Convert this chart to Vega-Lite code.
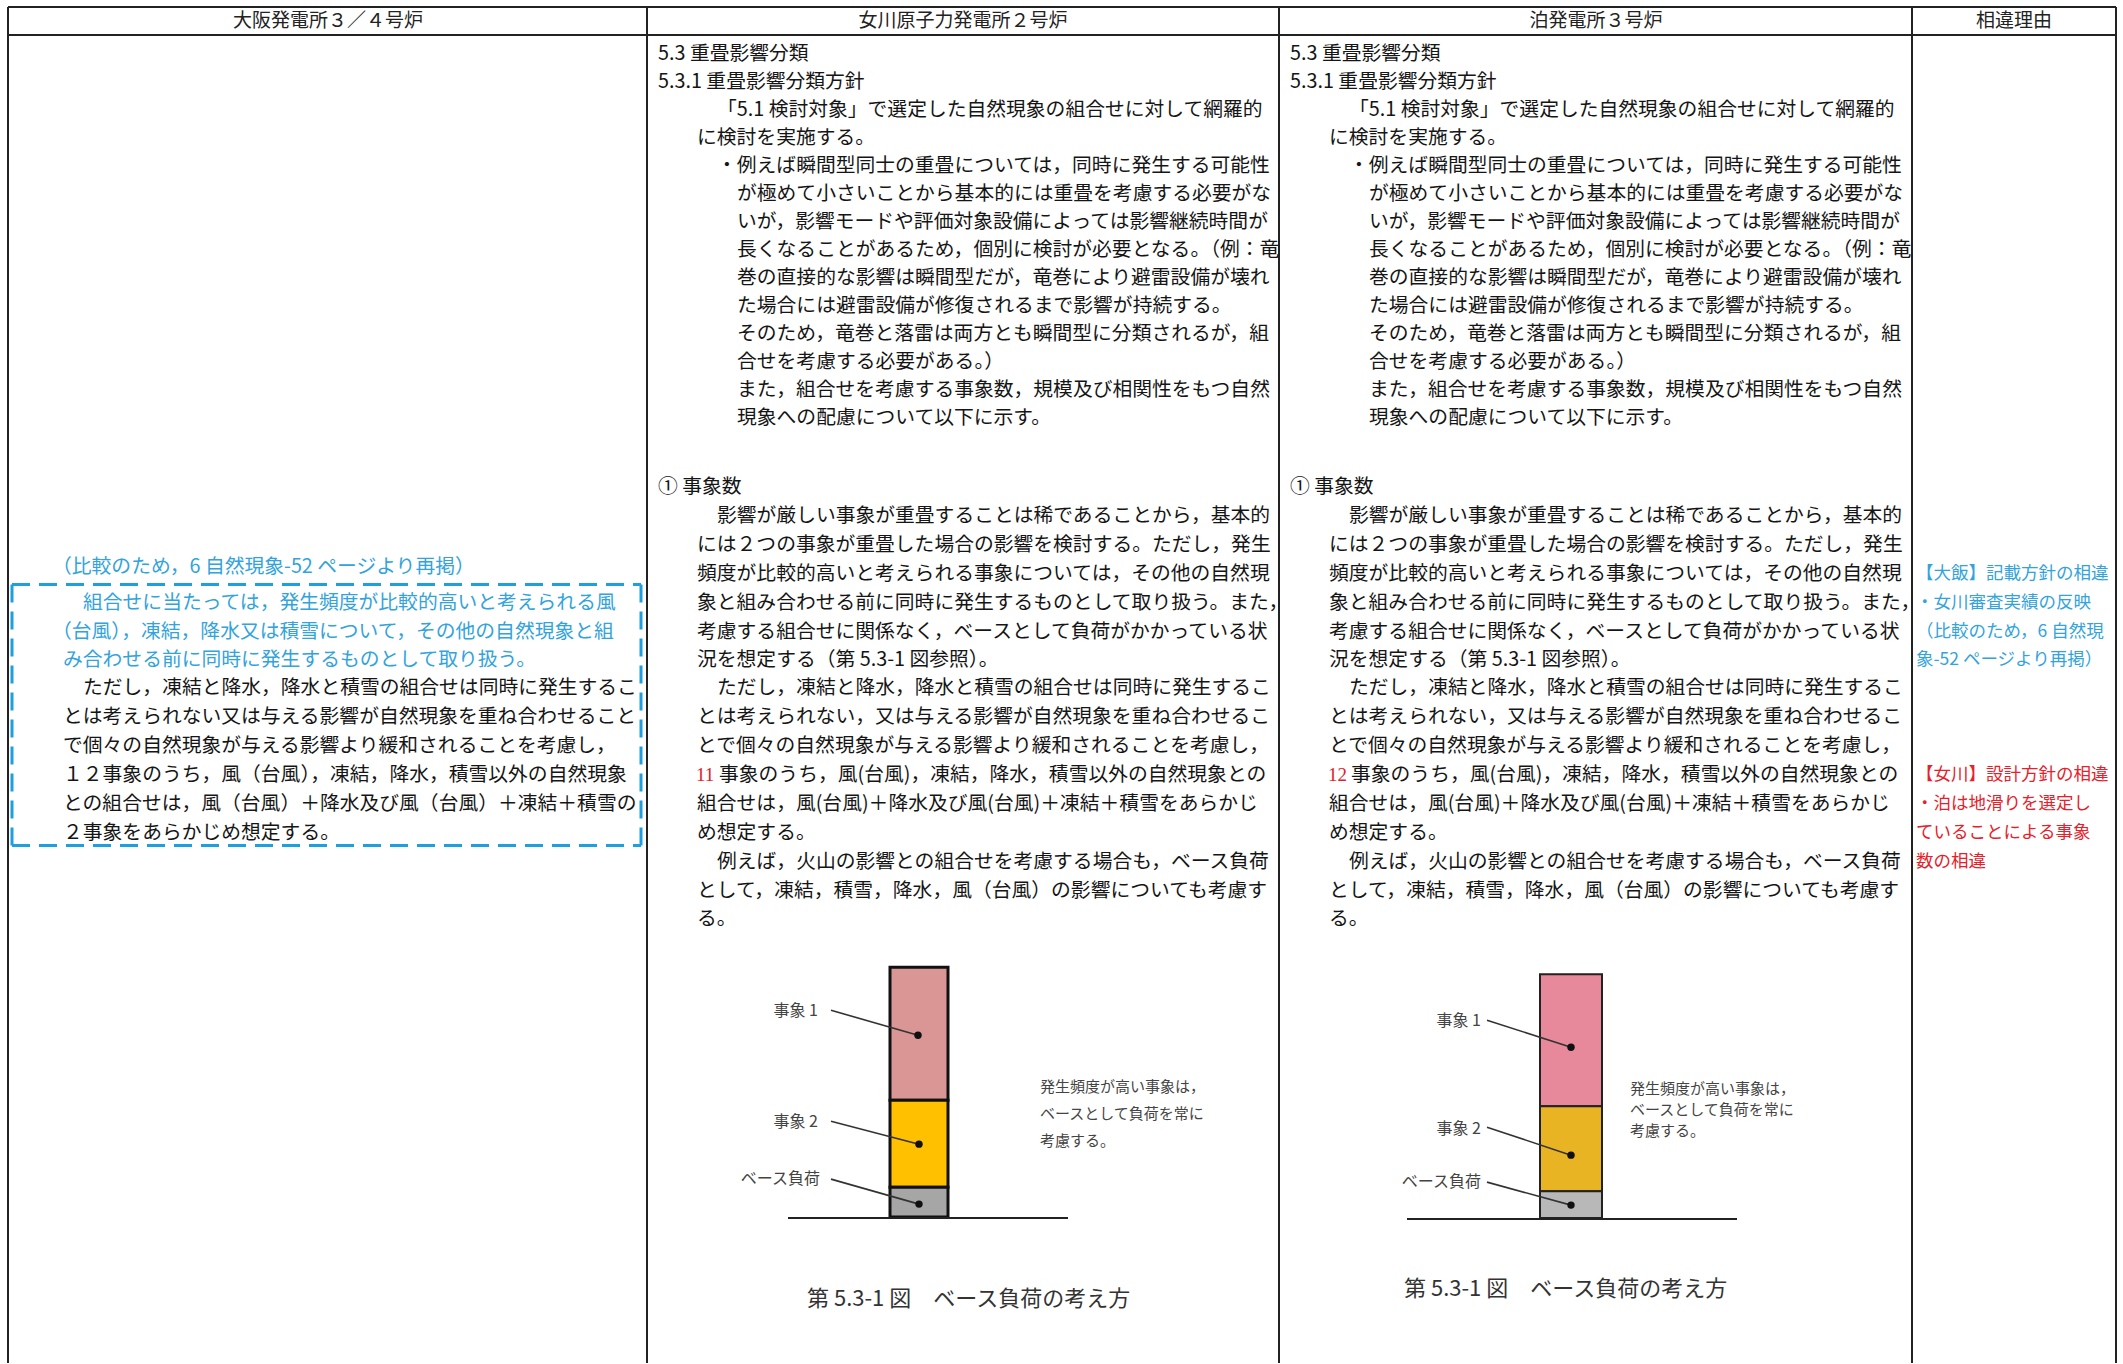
{
  "$schema": "https://vega.github.io/schema/vega-lite/v6.json",
  "width": 2123,
  "height": 1364,
  "autosize": {"type": "fit", "contains": "padding"},
  "padding": 0,
  "background": "#ffffff",
  "config": {"view": {"stroke": null}, "text": {"font": "Noto Sans CJK JP"}},
  "datasets": {
    "grid": [
      {"x": 8, "y": 7, "x2": 2116, "y2": 7},
      {"x": 8, "y": 35, "x2": 2116, "y2": 35},
      {"x": 8, "y": 7, "x2": 8, "y2": 1364},
      {"x": 647, "y": 7, "x2": 647, "y2": 1364},
      {"x": 1279, "y": 7, "x2": 1279, "y2": 1364},
      {"x": 1912, "y": 7, "x2": 1912, "y2": 1364},
      {"x": 2116, "y": 7, "x2": 2116, "y2": 1364}
    ],
    "dashbox": [
      {"x": 12, "y": 585, "x2": 641, "y2": 585},
      {"x": 12, "y": 846, "x2": 641, "y2": 846},
      {"x": 12, "y": 585, "x2": 12, "y2": 846},
      {"x": 641, "y": 585, "x2": 641, "y2": 846}
    ],
    "headers": [
      {"x": 328, "y": 21, "text": "大阪発電所３／４号炉"},
      {"x": 963, "y": 21, "text": "女川原子力発電所２号炉"},
      {"x": 1596, "y": 21, "text": "泊発電所３号炉"},
      {"x": 2014, "y": 21, "text": "相違理由"}
    ],
    "body": [
      {"x": 658, "y": 54, "text": "5.3 重畳影響分類"},
      {"x": 658, "y": 82, "text": "5.3.1 重畳影響分類方針"},
      {"x": 717, "y": 110, "text": "「5.1 検討対象」で選定した自然現象の組合せに対して網羅的"},
      {"x": 697, "y": 138, "text": "に検討を実施する。"},
      {"x": 717, "y": 166, "text": "・例えば瞬間型同士の重畳については，同時に発生する可能性"},
      {"x": 737, "y": 194, "text": "が極めて小さいことから基本的には重畳を考慮する必要がな"},
      {"x": 737, "y": 222, "text": "いが，影響モードや評価対象設備によっては影響継続時間が"},
      {"x": 737, "y": 250, "text": "長くなることがあるため，個別に検討が必要となる。（例：竜"},
      {"x": 737, "y": 278, "text": "巻の直接的な影響は瞬間型だが，竜巻により避雷設備が壊れ"},
      {"x": 737, "y": 306, "text": "た場合には避雷設備が修復されるまで影響が持続する。"},
      {"x": 737, "y": 334, "text": "そのため，竜巻と落雷は両方とも瞬間型に分類されるが，組"},
      {"x": 737, "y": 362, "text": "合せを考慮する必要がある。）"},
      {"x": 737, "y": 390, "text": "また，組合せを考慮する事象数，規模及び相関性をもつ自然"},
      {"x": 737, "y": 418, "text": "現象への配慮について以下に示す。"},
      {"x": 658, "y": 487, "text": "① 事象数"},
      {"x": 717, "y": 516, "text": "影響が厳しい事象が重畳することは稀であることから，基本的"},
      {"x": 697, "y": 545, "text": "には２つの事象が重畳した場合の影響を検討する。ただし，発生"},
      {"x": 697, "y": 574, "text": "頻度が比較的高いと考えられる事象については，その他の自然現"},
      {"x": 697, "y": 603, "text": "象と組み合わせる前に同時に発生するものとして取り扱う。また，"},
      {"x": 697, "y": 632, "text": "考慮する組合せに関係なく，ベースとして負荷がかかっている状"},
      {"x": 697, "y": 660, "text": "況を想定する（第 5.3-1 図参照）。"},
      {"x": 717, "y": 689, "text": "ただし，凍結と降水，降水と積雪の組合せは同時に発生するこ"},
      {"x": 697, "y": 718, "text": "とは考えられない，又は与える影響が自然現象を重ね合わせるこ"},
      {"x": 697, "y": 747, "text": "とで個々の自然現象が与える影響より緩和されることを考慮し，"},
      {"x": 719, "y": 776, "text": "事象のうち，風(台風)，凍結，降水，積雪以外の自然現象との"},
      {"x": 697, "y": 805, "text": "組合せは，風(台風)＋降水及び風(台風)＋凍結＋積雪をあらかじ"},
      {"x": 697, "y": 834, "text": "め想定する。"},
      {"x": 717, "y": 863, "text": "例えば，火山の影響との組合せを考慮する場合も，ベース負荷"},
      {"x": 697, "y": 892, "text": "として，凍結，積雪，降水，風（台風）の影響についても考慮す"},
      {"x": 697, "y": 920, "text": "る。"},
      {"x": 1290, "y": 54, "text": "5.3 重畳影響分類"},
      {"x": 1290, "y": 82, "text": "5.3.1 重畳影響分類方針"},
      {"x": 1349, "y": 110, "text": "「5.1 検討対象」で選定した自然現象の組合せに対して網羅的"},
      {"x": 1329, "y": 138, "text": "に検討を実施する。"},
      {"x": 1349, "y": 166, "text": "・例えば瞬間型同士の重畳については，同時に発生する可能性"},
      {"x": 1369, "y": 194, "text": "が極めて小さいことから基本的には重畳を考慮する必要がな"},
      {"x": 1369, "y": 222, "text": "いが，影響モードや評価対象設備によっては影響継続時間が"},
      {"x": 1369, "y": 250, "text": "長くなることがあるため，個別に検討が必要となる。（例：竜"},
      {"x": 1369, "y": 278, "text": "巻の直接的な影響は瞬間型だが，竜巻により避雷設備が壊れ"},
      {"x": 1369, "y": 306, "text": "た場合には避雷設備が修復されるまで影響が持続する。"},
      {"x": 1369, "y": 334, "text": "そのため，竜巻と落雷は両方とも瞬間型に分類されるが，組"},
      {"x": 1369, "y": 362, "text": "合せを考慮する必要がある。）"},
      {"x": 1369, "y": 390, "text": "また，組合せを考慮する事象数，規模及び相関性をもつ自然"},
      {"x": 1369, "y": 418, "text": "現象への配慮について以下に示す。"},
      {"x": 1290, "y": 487, "text": "① 事象数"},
      {"x": 1349, "y": 516, "text": "影響が厳しい事象が重畳することは稀であることから，基本的"},
      {"x": 1329, "y": 545, "text": "には２つの事象が重畳した場合の影響を検討する。ただし，発生"},
      {"x": 1329, "y": 574, "text": "頻度が比較的高いと考えられる事象については，その他の自然現"},
      {"x": 1329, "y": 603, "text": "象と組み合わせる前に同時に発生するものとして取り扱う。また，"},
      {"x": 1329, "y": 632, "text": "考慮する組合せに関係なく，ベースとして負荷がかかっている状"},
      {"x": 1329, "y": 660, "text": "況を想定する（第 5.3-1 図参照）。"},
      {"x": 1349, "y": 689, "text": "ただし，凍結と降水，降水と積雪の組合せは同時に発生するこ"},
      {"x": 1329, "y": 718, "text": "とは考えられない，又は与える影響が自然現象を重ね合わせるこ"},
      {"x": 1329, "y": 747, "text": "とで個々の自然現象が与える影響より緩和されることを考慮し，"},
      {"x": 1351, "y": 776, "text": "事象のうち，風(台風)，凍結，降水，積雪以外の自然現象との"},
      {"x": 1329, "y": 805, "text": "組合せは，風(台風)＋降水及び風(台風)＋凍結＋積雪をあらかじ"},
      {"x": 1329, "y": 834, "text": "め想定する。"},
      {"x": 1349, "y": 863, "text": "例えば，火山の影響との組合せを考慮する場合も，ベース負荷"},
      {"x": 1329, "y": 892, "text": "として，凍結，積雪，降水，風（台風）の影響についても考慮す"},
      {"x": 1329, "y": 920, "text": "る。"},
      {"x": 83, "y": 689, "text": "ただし，凍結と降水，降水と積雪の組合せは同時に発生するこ"},
      {"x": 63, "y": 718, "text": "とは考えられない又は与える影響が自然現象を重ね合わせること"},
      {"x": 63, "y": 747, "text": "で個々の自然現象が与える影響より緩和されることを考慮し，"},
      {"x": 63, "y": 776, "text": "１２事象のうち，風（台風），凍結，降水，積雪以外の自然現象"},
      {"x": 63, "y": 805, "text": "との組合せは，風（台風）＋降水及び風（台風）＋凍結＋積雪の"},
      {"x": 63, "y": 834, "text": "２事象をあらかじめ想定する。"}
    ],
    "bluetext": [
      {"x": 52, "y": 567, "text": "（比較のため，6 自然現象-52 ページより再掲）"},
      {"x": 83, "y": 603, "text": "組合せに当たっては，発生頻度が比較的高いと考えられる風"},
      {"x": 52, "y": 632, "text": "（台風），凍結，降水又は積雪について，その他の自然現象と組"},
      {"x": 63, "y": 660, "text": "み合わせる前に同時に発生するものとして取り扱う。"}
    ],
    "rednum": [
      {"x": 696, "y": 776, "text": "11"},
      {"x": 1328, "y": 776, "text": "12"}
    ],
    "reason_blue": [
      {"x": 1916, "y": 574, "text": "【大飯】記載方針の相違"},
      {"x": 1916, "y": 603, "text": "・女川審査実績の反映"},
      {"x": 1916, "y": 632, "text": "（比較のため，6 自然現"},
      {"x": 1916, "y": 660, "text": "象-52 ページより再掲）"}
    ],
    "reason_red": [
      {"x": 1916, "y": 776, "text": "【女川】設計方針の相違"},
      {"x": 1916, "y": 805, "text": "・泊は地滑りを選定し"},
      {"x": 1916, "y": 834, "text": "ていることによる事象"},
      {"x": 1916, "y": 863, "text": "数の相違"}
    ],
    "bars_onagawa": [
      {"seg": "女川 事象1", "x": 890, "x2": 948, "y": 968, "y2": 1101},
      {"seg": "女川 事象2", "x": 890, "x2": 948, "y": 1101, "y2": 1188},
      {"seg": "女川 ベース負荷", "x": 890, "x2": 948, "y": 1188, "y2": 1218}
    ],
    "bars_tomari": [
      {"seg": "泊 事象1", "x": 1540, "x2": 1602, "y": 975, "y2": 1107},
      {"seg": "泊 事象2", "x": 1540, "x2": 1602, "y": 1107, "y2": 1192},
      {"seg": "泊 ベース負荷", "x": 1540, "x2": 1602, "y": 1192, "y2": 1219}
    ],
    "baselines": [
      {"x": 788, "y": 1219, "x2": 1068, "y2": 1219},
      {"x": 1407, "y": 1220, "x2": 1737, "y2": 1220}
    ],
    "leaders": [
      {"x": 831, "y": 1011, "x2": 918, "y2": 1036},
      {"x": 831, "y": 1122, "x2": 919, "y2": 1145},
      {"x": 831, "y": 1180, "x2": 919, "y2": 1205},
      {"x": 1487, "y": 1021, "x2": 1571, "y2": 1048},
      {"x": 1487, "y": 1128, "x2": 1571, "y2": 1156},
      {"x": 1487, "y": 1183, "x2": 1571, "y2": 1206}
    ],
    "dots": [
      {"x": 918, "y": 1036},
      {"x": 919, "y": 1145},
      {"x": 919, "y": 1205},
      {"x": 1571, "y": 1048},
      {"x": 1571, "y": 1156},
      {"x": 1571, "y": 1206}
    ],
    "seglabels": [
      {"x": 818, "y": 1012, "text": "事象 1"},
      {"x": 818, "y": 1123, "text": "事象 2"},
      {"x": 820, "y": 1180, "text": "ベース負荷"},
      {"x": 1481, "y": 1022, "text": "事象 1"},
      {"x": 1481, "y": 1130, "text": "事象 2"},
      {"x": 1481, "y": 1183, "text": "ベース負荷"}
    ],
    "notes": [
      {"x": 1040, "y": 1088, "text": "発生頻度が高い事象は，"},
      {"x": 1040, "y": 1115, "text": "ベースとして負荷を常に"},
      {"x": 1040, "y": 1142, "text": "考慮する。"},
      {"x": 1630, "y": 1090, "text": "発生頻度が高い事象は，"},
      {"x": 1630, "y": 1111, "text": "ベースとして負荷を常に"},
      {"x": 1630, "y": 1132, "text": "考慮する。"}
    ],
    "captions": [
      {"x": 807, "y": 1300, "text": "第 5.3-1 図　ベース負荷の考え方"},
      {"x": 1404, "y": 1290, "text": "第 5.3-1 図　ベース負荷の考え方"}
    ]
  },
  "layer": [
    {
      "data": {"name": "grid"},
      "mark": {"type": "rule", "strokeWidth": 2, "color": "#222222"},
      "encoding": {
        "x": {"field": "x", "type": "quantitative", "scale": {"domain": [0, 2123], "nice": false, "zero": false}, "axis": null},
        "y": {"field": "y", "type": "quantitative", "scale": {"domain": [0, 1364], "nice": false, "zero": false, "reverse": true}, "axis": null},
        "x2": {"field": "x2"},
        "y2": {"field": "y2"}
      }
    },
    {
      "data": {"name": "dashbox"},
      "mark": {"type": "rule", "strokeWidth": 3, "color": "#1e9fe0", "strokeDash": [18, 9]},
      "encoding": {
        "x": {"field": "x", "type": "quantitative", "axis": null},
        "y": {"field": "y", "type": "quantitative", "axis": null},
        "x2": {"field": "x2"},
        "y2": {"field": "y2"}
      }
    },
    {
      "data": {"name": "bars_onagawa"},
      "mark": {"type": "rect", "stroke": "#111111", "strokeWidth": 3},
      "encoding": {
        "x": {"field": "x", "type": "quantitative", "axis": null},
        "x2": {"field": "x2"},
        "y": {"field": "y", "type": "quantitative", "axis": null},
        "y2": {"field": "y2"},
        "fill": {"field": "seg", "type": "nominal", "legend": null, "scale": {"domain": ["女川 事象1", "女川 事象2", "女川 ベース負荷", "泊 事象1", "泊 事象2", "泊 ベース負荷"], "range": ["#d99694", "#ffc000", "#a6a6a6", "#e8899b", "#e8b423", "#b8b8b8"]}}
      }
    },
    {
      "data": {"name": "bars_tomari"},
      "mark": {"type": "rect", "stroke": "#222222", "strokeWidth": 2},
      "encoding": {
        "x": {"field": "x", "type": "quantitative", "axis": null},
        "x2": {"field": "x2"},
        "y": {"field": "y", "type": "quantitative", "axis": null},
        "y2": {"field": "y2"},
        "fill": {"field": "seg", "type": "nominal", "legend": null, "scale": {"domain": ["女川 事象1", "女川 事象2", "女川 ベース負荷", "泊 事象1", "泊 事象2", "泊 ベース負荷"], "range": ["#d99694", "#ffc000", "#a6a6a6", "#e8899b", "#e8b423", "#b8b8b8"]}}
      }
    },
    {
      "data": {"name": "baselines"},
      "mark": {"type": "rule", "strokeWidth": 2, "color": "#222222"},
      "encoding": {
        "x": {"field": "x", "type": "quantitative", "axis": null},
        "y": {"field": "y", "type": "quantitative", "axis": null},
        "x2": {"field": "x2"},
        "y2": {"field": "y2"}
      }
    },
    {
      "data": {"name": "leaders"},
      "mark": {"type": "rule", "strokeWidth": 1.6, "color": "#333333"},
      "encoding": {
        "x": {"field": "x", "type": "quantitative", "axis": null},
        "y": {"field": "y", "type": "quantitative", "axis": null},
        "x2": {"field": "x2"},
        "y2": {"field": "y2"}
      }
    },
    {
      "data": {"name": "dots"},
      "mark": {"type": "point", "filled": true, "color": "#111111", "size": 55, "opacity": 1},
      "encoding": {
        "x": {"field": "x", "type": "quantitative", "axis": null},
        "y": {"field": "y", "type": "quantitative", "axis": null}
      }
    },
    {
      "data": {"name": "headers"},
      "mark": {"type": "text", "fontSize": 19, "align": "center", "baseline": "middle", "color": "#222222"},
      "encoding": {
        "x": {"field": "x", "type": "quantitative", "axis": null},
        "y": {"field": "y", "type": "quantitative", "axis": null},
        "text": {"field": "text"}
      }
    },
    {
      "data": {"name": "body"},
      "mark": {"type": "text", "fontSize": 19.8, "align": "left", "baseline": "middle", "color": "#151515"},
      "encoding": {
        "x": {"field": "x", "type": "quantitative", "axis": null},
        "y": {"field": "y", "type": "quantitative", "axis": null},
        "text": {"field": "text"}
      }
    },
    {
      "data": {"name": "bluetext"},
      "mark": {"type": "text", "fontSize": 19.8, "align": "left", "baseline": "middle", "color": "#33a3dc"},
      "encoding": {
        "x": {"field": "x", "type": "quantitative", "axis": null},
        "y": {"field": "y", "type": "quantitative", "axis": null},
        "text": {"field": "text"}
      }
    },
    {
      "data": {"name": "rednum"},
      "mark": {"type": "text", "fontSize": 19, "font": "Liberation Serif", "align": "left", "baseline": "middle", "color": "#e0202a"},
      "encoding": {
        "x": {"field": "x", "type": "quantitative", "axis": null},
        "y": {"field": "y", "type": "quantitative", "axis": null},
        "text": {"field": "text"}
      }
    },
    {
      "data": {"name": "reason_blue"},
      "mark": {"type": "text", "fontSize": 17.5, "align": "left", "baseline": "middle", "color": "#33a3dc"},
      "encoding": {
        "x": {"field": "x", "type": "quantitative", "axis": null},
        "y": {"field": "y", "type": "quantitative", "axis": null},
        "text": {"field": "text"}
      }
    },
    {
      "data": {"name": "reason_red"},
      "mark": {"type": "text", "fontSize": 17.5, "align": "left", "baseline": "middle", "color": "#e8202a"},
      "encoding": {
        "x": {"field": "x", "type": "quantitative", "axis": null},
        "y": {"field": "y", "type": "quantitative", "axis": null},
        "text": {"field": "text"}
      }
    },
    {
      "data": {"name": "seglabels"},
      "mark": {"type": "text", "fontSize": 16, "align": "right", "baseline": "middle", "color": "#444444"},
      "encoding": {
        "x": {"field": "x", "type": "quantitative", "axis": null},
        "y": {"field": "y", "type": "quantitative", "axis": null},
        "text": {"field": "text"}
      }
    },
    {
      "data": {"name": "notes"},
      "mark": {"type": "text", "fontSize": 15, "align": "left", "baseline": "middle", "color": "#444444"},
      "encoding": {
        "x": {"field": "x", "type": "quantitative", "axis": null},
        "y": {"field": "y", "type": "quantitative", "axis": null},
        "text": {"field": "text"}
      }
    },
    {
      "data": {"name": "captions"},
      "mark": {"type": "text", "fontSize": 22, "align": "left", "baseline": "middle", "color": "#333333"},
      "encoding": {
        "x": {"field": "x", "type": "quantitative", "axis": null},
        "y": {"field": "y", "type": "quantitative", "axis": null},
        "text": {"field": "text"}
      }
    }
  ]
}
